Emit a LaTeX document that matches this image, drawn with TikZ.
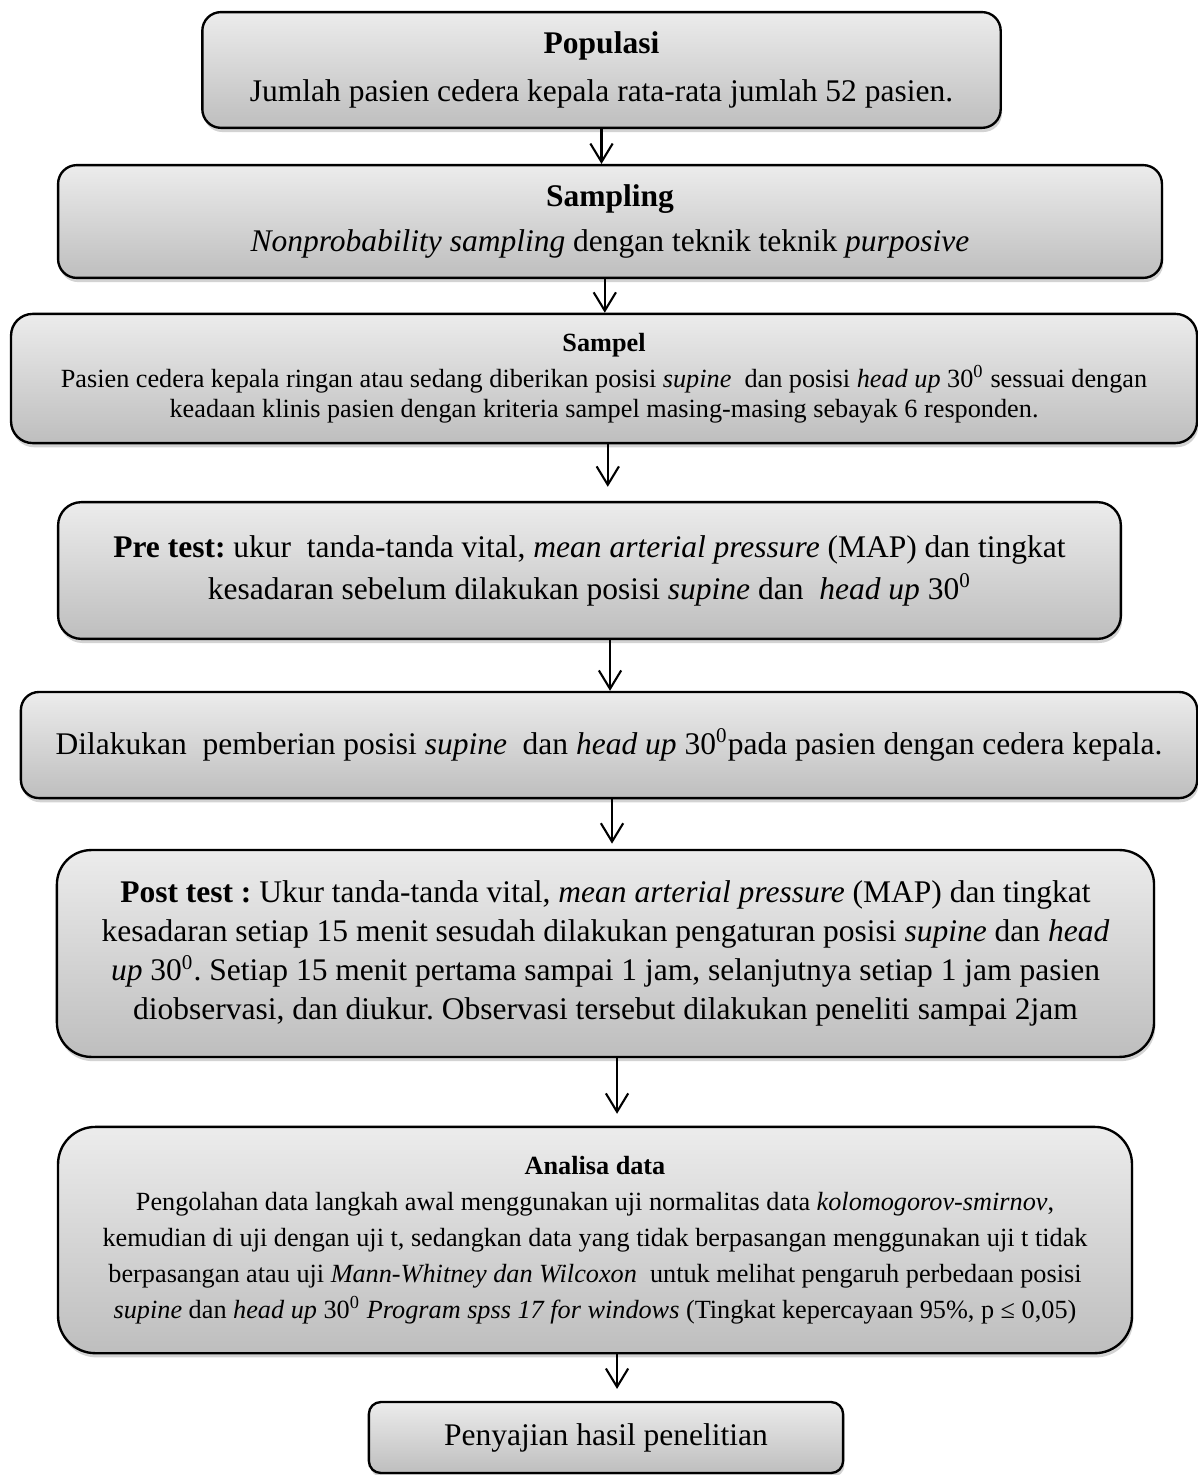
\documentclass[tikz,border=0pt]{standalone}
\usepackage{fontspec}
\setmainfont{Liberation Serif}
\usepackage{xcolor}
\usepackage{tikz}
\usetikzlibrary{shadows,arrows.meta}
\definecolor{boxtop}{RGB}{236,236,236}
\definecolor{boxbottom}{RGB}{190,190,190}
\definecolor{shadowgray}{RGB}{110,110,110}
\frenchspacing

\tikzset{
  flowbox/.style={draw=black, line width=0.9pt, rounded corners=0.25cm,
    top color=boxtop, bottom color=boxbottom, inner sep=0pt, align=center,
    drop shadow={shadow xshift=0.5pt, shadow yshift=-1.6pt, opacity=0.3, fill=shadowgray}},
  flowarrow/.style={line width=0.8pt, -{Straight Barb[length=7pt,width=8.5pt]}},
  bigtext/.style={font=\fontsize{12}{#1}\selectfont},
  smalltext/.style={font=\fontsize{10}{#1}\selectfont}
}

\begin{document}
\begin{tikzpicture}
  \useasboundingbox (0,0) rectangle (16.028,-19.75);

  % Populasi
  \node[flowbox, bigtext=18.5pt, minimum width=10.69cm, minimum height=1.55cm] (pop) at (8.054,-0.937)
    {\textbf{Populasi}\\Jumlah pasien cedera kepala rata-rata jumlah 52 pasien.};

  % Sampling
  \node[flowbox, bigtext=17pt, minimum width=14.78cm, minimum height=1.51cm] (samp) at (8.168,-2.966)
    {\textbf{Sampling}\\\textit{Nonprobability sampling} dengan teknik teknik \textit{purposive}};

  % Sampel
  \node[flowbox, smalltext=11.5pt, rounded corners=0.29cm, minimum width=15.88cm, minimum height=1.73cm] (sampel) at (8.088,-5.068)
    {\textbf{Sampel}\\[2pt]Pasien cedera kepala ringan atau sedang diberikan posisi \textit{supine}\ \ dan posisi \textit{head up} 30\textsuperscript{0} sessuai dengan\\keadaan klinis pasien dengan kriteria sampel masing-masing sebayak 6 responden.};

  % Pre test
  \node[flowbox, bigtext=16pt, rounded corners=0.31cm, minimum width=14.23cm, minimum height=1.83cm] (pre) at (7.893,-7.639)
    {\textbf{Pre test:} ukur\ \ tanda-tanda vital, \textit{mean arterial pressure} (MAP) dan tingkat\\kesadaran sebelum dilakukan posisi \textit{supine} dan\ \ \textit{head up} 30\textsuperscript{0}};

  % Intervensi
  \node[flowbox, bigtext=15pt, rounded corners=0.24cm, minimum width=15.75cm, minimum height=1.42cm] (beri) at (8.155,-9.976)
    {Dilakukan\ \ pemberian posisi \textit{supine}\ \ dan \textit{head up} 30\textsuperscript{0}pada pasien dengan cedera kepala.};

  % Post test
  \node[flowbox, bigtext=14.8pt, rounded corners=0.46cm, minimum width=14.69cm, minimum height=2.77cm] (post) at (8.107,-12.767)
    {\textbf{Post test :} Ukur tanda-tanda vital, \textit{mean arterial pressure} (MAP) dan tingkat\\kesadaran setiap 15 menit sesudah dilakukan pengaturan posisi \textit{supine} dan \textit{head}\\\textit{up} 30\textsuperscript{0}. Setiap 15 menit pertama sampai 1 jam, selanjutnya setiap 1 jam pasien\\diobservasi, dan diukur. Observasi tersebut dilakukan peneliti sampai 2jam};

  % Analisa data
  \node[flowbox, smalltext=13.7pt, rounded corners=0.5cm, minimum width=14.38cm, minimum height=3.03cm] (analisa) at (7.967,-16.604)
    {\textbf{Analisa data}\\Pengolahan data langkah awal menggunakan uji normalitas data \textit{kolomogorov-smirnov},\\kemudian di uji dengan uji t, sedangkan data yang tidak berpasangan menggunakan uji t tidak\\berpasangan atau uji \textit{Mann-Whitney dan Wilcoxon}\ \ untuk melihat pengaruh perbedaan posisi\\\textit{supine} dan \textit{head up} 30\textsuperscript{0} \textit{Program spss 17 for windows} (Tingkat kepercayaan 95\%, p ≤ 0,05)};

  % Penyajian
  \node[flowbox, bigtext=15pt, rounded corners=0.16cm, minimum width=6.35cm, minimum height=0.95cm] (hasil) at (8.114,-19.248)
    {Penyajian hasil penelitian};

  % Arrows
  \draw[flowarrow] (pop.south) -- (pop.south |- samp.north);
  \draw[flowarrow] ([xshift=-0.07cm]samp.south) -- ([xshift=-0.07cm]samp.south |- sampel.north);
  \draw[flowarrow, shorten >=0.19cm] ([xshift=0.05cm]sampel.south) -- ([xshift=0.05cm]sampel.south |- pre.north);
  \draw[flowarrow] ([xshift=0.275cm]pre.south) -- ([xshift=0.275cm]pre.south |- beri.north);
  \draw[flowarrow, shorten >=0.07cm] ([xshift=0.04cm]beri.south) -- ([xshift=0.04cm]beri.south |- post.north);
  \draw[flowarrow, shorten >=0.16cm] ([xshift=0.155cm]post.south) -- ([xshift=0.155cm]post.south |- analisa.north);
  \draw[flowarrow, shorten >=0.16cm] ([xshift=0.295cm]analisa.south) -- ([xshift=0.295cm]analisa.south |- hasil.north);

\end{tikzpicture}
\end{document}
